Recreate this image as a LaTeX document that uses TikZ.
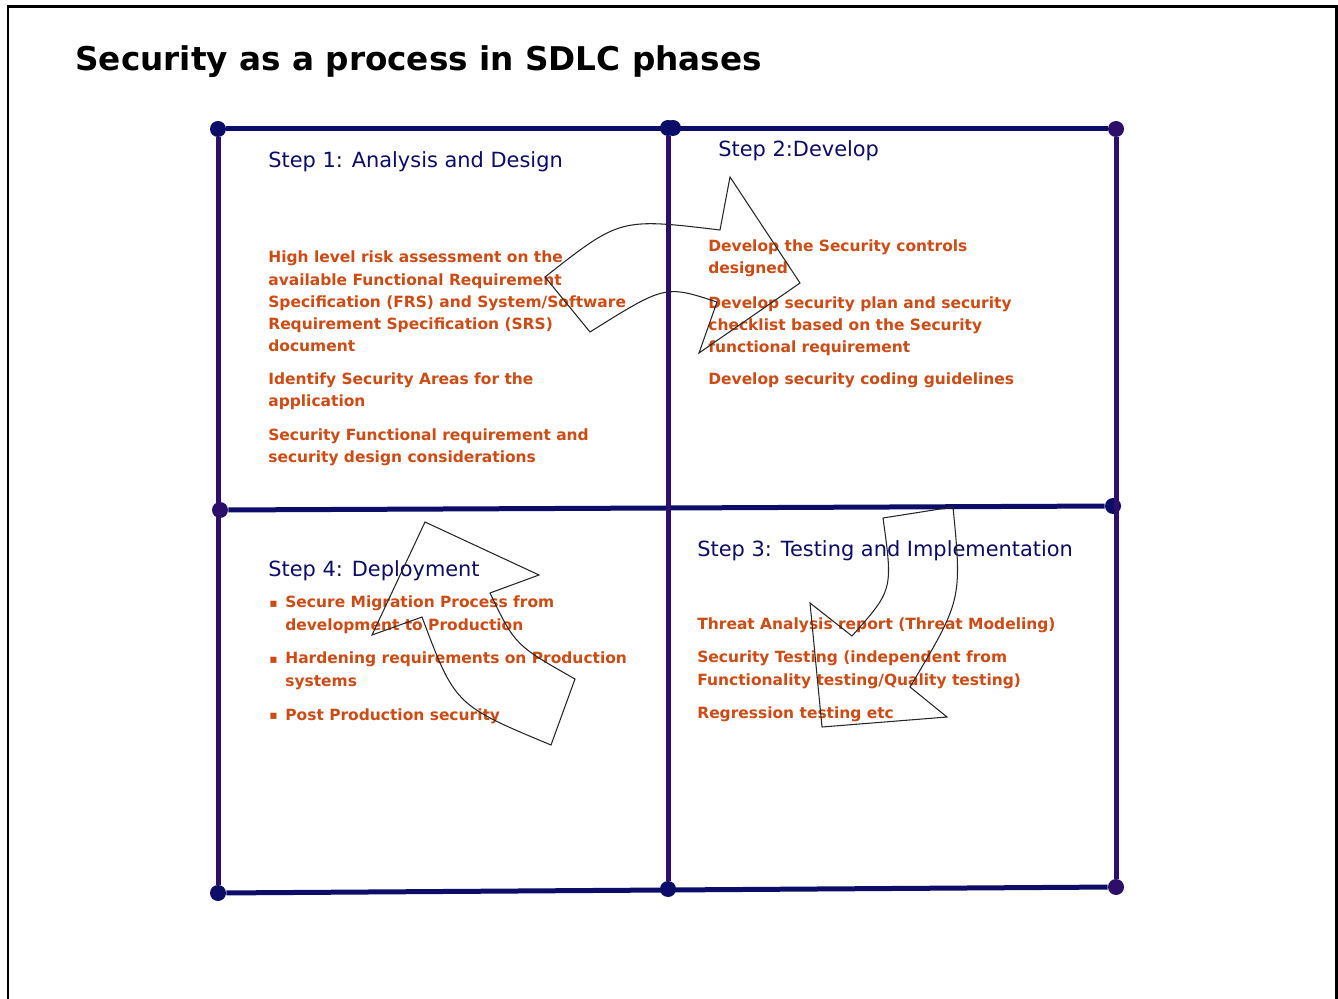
\documentclass[tikz,border=0pt]{standalone}
\usepackage{fontspec}
\setmainfont{DejaVu Sans}
\definecolor{blunotte}{RGB}{12,12,105}
\definecolor{viola}{RGB}{45,15,105}
\definecolor{arancio}{RGB}{205,75,20}

\begin{document}
\begin{tikzpicture}[x=0.02cm, y=-0.02cm,
    punto/.style={circle, inner sep=0pt, minimum size=0.32cm, fill=#1},
    riga/.style={line width=0.1cm, draw=#1},
    passo/.style={anchor=base west, inner sep=0pt, text=blunotte, font=\fontsize{11.9}{14}\selectfont},
    voce/.style={anchor=base west, inner sep=0pt, align=left, text=arancio, font=\bfseries\fontsize{8.8}{12.7}\selectfont},
    pallino/.style={anchor=base west, inner sep=0pt, text=arancio, font=\fontsize{7}{8}\selectfont},
    freccia/.style={draw=black!85, line width=0.6pt}]
    \useasboundingbox (0,0) rectangle (1338,999);

    % Cornice
    \draw[line width=1.7pt] (8,999) -- (8,7) -- (1336,7) -- (1336,999);

    % Titolo
    \node (titolo) [anchor=base west, inner sep=0pt, font=\bfseries\fontsize{18.6}{22}\selectfont] at (75,71) {Security as a process in SDLC phases};

    % Punti della griglia
    \node (tl) at (218,129) [punto=blunotte] {};
    \node (tm1) at (668,128) [punto=blunotte] {};
    \node (tm2) at (673,128) [punto=blunotte] {};
    \node (tr) at (1116,129) [punto=viola] {};
    \node (ml) at (220,510) [punto=viola] {};
    \node (mr) at (1113,506) [punto=blunotte] {};
    \node (bl) at (218,893) [punto=blunotte] {};
    \node (bm) at (668,889) [punto=blunotte] {};
    \node (br) at (1116,887) [punto=viola] {};

    % Griglia
    \draw[riga=blunotte] (tl) -- (tr);
    \draw[riga=blunotte] (ml) -- (mr);
    \draw[riga=blunotte] (bl) -- (br);
    \draw[riga=viola] (tl) -- (bl);
    \draw[riga=viola] (tm1) -- (bm);
    \draw[riga=viola] (tr) -- (br);

    % Passo 1 (base = ultima riga)
    \node (p1) at (268,168) [passo] {Step 1: Analysis and Design};
    \node (p1a) at (268,352) [voce] {High level risk assessment on the\\available Functional Requirement\\Specification (FRS) and System/Software\\Requirement Specification (SRS)\\document};
    \node (p1b) at (268,407) [voce] {Identify Security Areas for the\\application};
    \node (p1c) at (268,463) [voce] {Security Functional requirement and\\security design considerations};

    % Passo 2
    \node (p2) at (718,157) [passo] {Step 2:Develop};
    \node (p2a) at (708,274) [voce] {Develop the Security controls\\designed};
    \node (p2b) at (708,353) [voce] {Develop security plan and security\\checklist based on the Security\\functional requirement};
    \node (p2c) at (708,385) [voce] {Develop security coding guidelines};

    % Passo 3
    \node (p3) at (697,557) [passo] {Step 3: Testing and Implementation};
    \node (p3a) at (697,629) [voce] {Threat Analysis report (Threat Modeling)};
    \node (p3b) at (697,685) [voce] {Security Testing (independent from\\Functionality testing/Quality testing)};
    \node (p3c) at (697,718) [voce] {Regression testing etc};

    % Passo 4
    \node (p4) at (268,577) [passo] {Step 4: Deployment};
    \node (b4a) at (269,607) [pallino] {▪};
    \node (p4a) at (285,630) [voce] {Secure Migration Process from\\development to Production};
    \node (b4b) at (269,663) [pallino] {▪};
    \node (p4b) at (285,686) [voce] {Hardening requirements on Production\\systems};
    \node (b4c) at (269,719) [pallino] {▪};
    \node (p4c) at (285,720) [voce] {Post Production security};

    % Frecce
    \draw[freccia] (545,277) .. controls (620,218) .. (720,230) -- (730,177) -- (800,283)
        -- (699,353) -- (717,302) .. controls (665,285) .. (590,332) -- cycle;
    \draw[freccia] (883,518) -- (953,507) .. controls (962,600) .. (910,687) -- (947,717)
        -- (822,727) -- (810,603) -- (852,636) .. controls (893,590) .. (883,518) -- cycle;
    \draw[freccia] (425,522) -- (539,575) -- (490,593) .. controls (515,645) .. (575,679)
        -- (551,745) .. controls (455,705) .. (422,617) -- (372,635) -- cycle;
\end{tikzpicture}
\end{document}
